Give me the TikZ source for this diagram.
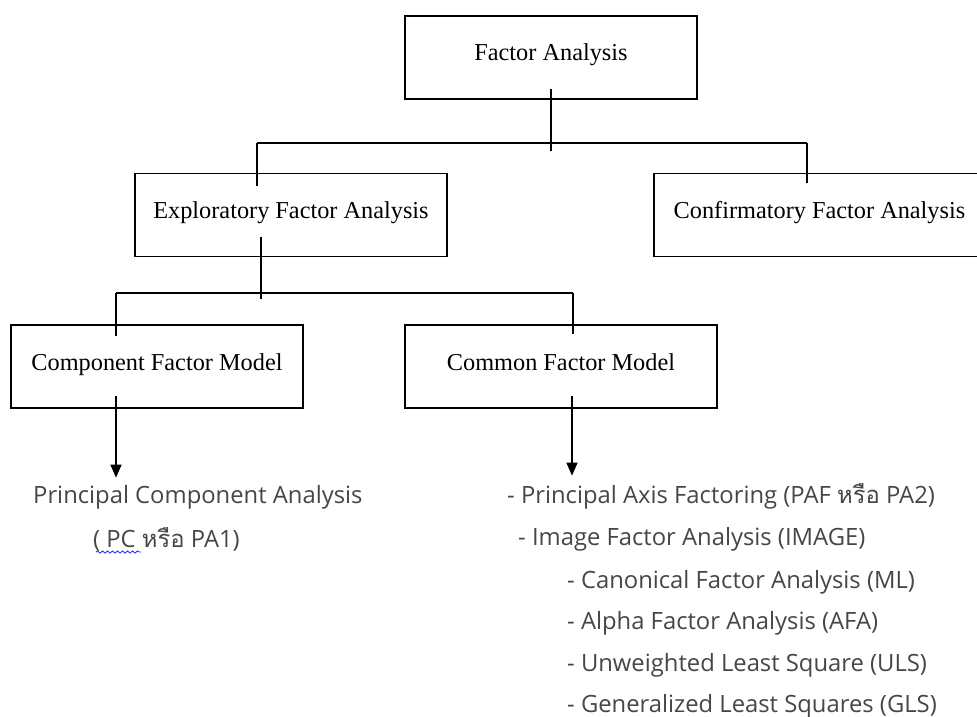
\documentclass[tikz,border=0pt]{standalone}
\usepackage{fontspec}
\usepackage{tikz}
\usetikzlibrary{arrows.meta, positioning, calc, decorations.pathmorphing}
\newfontfamily\boxfont{Liberation Serif}
\newfontfamily\listfont{Open Sans}
\newfontfamily\thaifont[Script=Thai]{Loma}
\definecolor{listgray}{RGB}{70,70,70}
\tikzset{
  box/.style   = {draw=black, line width=1.3pt, inner xsep=0pt, inner ysep=0pt,
                  minimum height=83pt, text height=45pt, text depth=38pt,
                  font=\boxfont\fontsize{24.3}{28}\selectfont},
  link/.style  = {line width=1.3pt, color=black},
  arrow/.style = {link, -{Triangle[length=13pt, width=11pt]}},
  item/.style  = {anchor=base west, inner sep=0pt, color=listgray,
                  font=\listfont\fontsize{23.8}{28}\selectfont},
  spell/.style = {draw=blue!80, line width=0.9pt,
                  decorate, decoration={snake, amplitude=1.1pt, segment length=5pt}},
}

\begin{document}
\begin{tikzpicture}[x=1pt, y=-1pt]
  \useasboundingbox (0,0) rectangle (977,717);

  % boxes
  \node[box, minimum width=292pt] (fa)  at (551,57.5)  {Factor Analysis};
  \node[box, minimum width=312pt] (efa) at (291,215)   {Exploratory Factor Analysis};
  \node[box, minimum width=331pt] (cfa) at (819.5,215) {Confirmatory Factor Analysis};
  \node[box, minimum width=292pt] (cfm) at (157,366.5) {Component Factor Model};
  \node[box, minimum width=312pt] (com) at (561,366.5) {Common Factor Model};

  % bus lines
  \coordinate (bus1l) at (257,143);
  \coordinate (bus1r) at (807,143);
  \coordinate (bus2l) at (116,293);
  \coordinate (bus2r) at (573,293);

  % first level
  \draw[link] ([yshift=11pt]fa.south) -- ++(0,62);
  \draw[link] (bus1l) -- (bus1r);
  \draw[link] (bus1l) -- ++(0,43);
  \draw[link] (bus1r) -- ++(0,40);

  % second level
  \draw[link] ([xshift=-30pt, yshift=20pt]efa.south) -- ++(0,62);
  \draw[link] (bus2l) -- (bus2r);
  \draw[link] (bus2l) -- ++(0,43);
  \draw[link] (bus2r) -- ++(0,41);

  % methods
  \node[item] (pca1) at (33,503) {Principal Component Analysis};
  \node[item] (pca2) at (93,547) {( PC {\thaifont หรือ} PA1)};
  \draw[spell] (96,552) -- (141,552);

  \node[item] (m1) at (507,503) {- Principal Axis Factoring (PAF {\thaifont หรือ} PA2)};
  \node[item] (m2) at (518,545) {- Image Factor Analysis (IMAGE)};
  \foreach \i/\y/\lbl in {3/588/Canonical Factor Analysis (ML),
                          4/629/Alpha Factor Analysis (AFA),
                          5/671/Unweighted Least Square (ULS),
                          6/712/Generalized Least Squares (GLS)} {
    \node[item] (m\i) at (567,\y) {- \lbl};
  }

  % arrows
  \draw[arrow] ([xshift=-41pt, yshift=13pt]cfm.south) -- ++(0,82);
  \draw[arrow] ([xshift=11pt, yshift=13pt]com.south) -- ++(0,80);
\end{tikzpicture}
\end{document}
